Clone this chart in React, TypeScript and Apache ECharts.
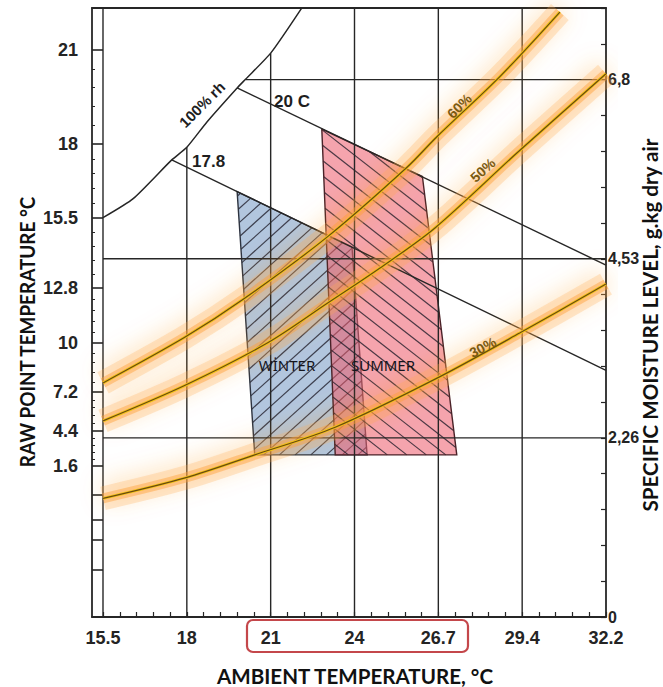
import React, { useEffect, useRef } from "react";
import * as echarts from "echarts";

// ---- data (x: dry-bulb scale index, 0 = 15.5 °C ... 6 = 32.2 °C; y: specific moisture level) ----
const xTickValues = [0, 1, 2, 3, 4, 5, 6];
const xTickLabels = ["15.5", "18", "21", "24", "26.7", "29.4", "32.2"];
const dewPointValues = [7.17, 5.98, 5.045, 4.16, 3.465, 2.845, 2.352, 1.909];
const dewPointLabels = ["21", "18", "15.5", "12.8", "10", "7.2", "4.4", "1.6"];
const lowerScaleMarks = [1.543, 1.227, 0.974, 0.594];
const moistureValues = [0, 2.265, 4.53, 6.795];
const moistureLabels = ["0", "2,26", "4,53", "6,8"];

const saturationCurve = [[0, 5.05], [0.36, 5.29], [0.82, 5.78], [1, 5.94], [1.24, 6.26], [1.6, 6.69], [1.7, 6.8], [2, 7.13], [2.37, 7.7]];
const rh60 = [[0, 2.96], [0.98, 3.54], [1.69, 4.03], [2.68, 4.81], [3.63, 5.69], [3.98, 6.07], [4.74, 6.84], [5.45, 7.65]];
const rh50 = [[0, 2.48], [0.98, 2.93], [1.97, 3.47], [2.68, 3.97], [3.3, 4.41], [3.96, 4.92], [4.94, 5.87], [6, 6.87]];
const rh30 = [[0, 1.5], [0.98, 1.76], [1.81, 2.05], [2.77, 2.4], [4.02, 3.04], [4.97, 3.59], [6, 4.21]];
const wetBulb20 = [[1.6, 6.69], [6, 4.45]];
const wetBulb178 = [[0.82, 5.78], [6, 3.12]];
// [x, yFrom, yTo]
const dryBulbLines = [[0, 0, 7.701], [1, 0, 5.94], [2, 0, 7.13], [3, 0, 7.701], [4, 0, 7.701], [5, 0, 7.701]];
// [y, xFrom, xTo]
const moistureLines = [[2.265, 0, 6], [4.53, 0, 6], [6.795, 1.7, 6]];
const winterZone = [[1.6, 5.38], [2.97, 4.68], [3.15, 2.05], [1.81, 2.05]];
const summerZone = [[2.61, 6.17], [3.81, 5.57], [4.22, 2.05], [2.77, 2.05]];
const noteTexts = ["100% rh", "20 C", "17.8", "60%", "50%", "30%", "WİNTER", "SUMMER"];
const noteAnchors = [[1.18, 6.48], [2.255, 6.52], [1.26, 5.76], [4.25, 6.46], [4.53, 5.65], [4.53, 3.41], [2.195, 3.19], [3.34, 3.19]];

const Y_MAX = 7.701;
const X_MIN = -0.1312;

function hatch(pts: number[][], angleDeg: number, spacing: number) {
  const a = (angleDeg * Math.PI) / 180;
  const d = [Math.cos(a), Math.sin(a)];
  const n = [-d[1], d[0]];
  const proj = pts.map((p) => p[0] * n[0] + p[1] * n[1]);
  const lo = Math.min(...proj);
  const hi = Math.max(...proj);
  const segs: number[][][] = [];
  for (let c = Math.ceil(lo / spacing) * spacing; c <= hi; c += spacing) {
    const hits: number[][] = [];
    for (let i = 0; i < pts.length; i++) {
      const j = (i + 1) % pts.length;
      const A = pts[i], B = pts[j];
      const sA = proj[i] - c, sB = proj[j] - c;
      if ((sA < 0 && sB >= 0) || (sA >= 0 && sB < 0)) {
        const t = sA / (sA - sB);
        hits.push([A[0] + t * (B[0] - A[0]), A[1] + t * (B[1] - A[1])]);
      }
    }
    if (hits.length >= 2) {
      hits.sort((p, q) => p[0] * d[0] + p[1] * d[1] - (q[0] * d[0] + q[1] * d[1]));
      segs.push([hits[0], hits[hits.length - 1]]);
    }
  }
  return segs;
}

export default function App() {
  const ref = useRef<HTMLDivElement>(null);
  useEffect(() => {
    if (!ref.current) return;
    const chart = echarts.init(ref.current, null, { renderer: "svg" });

    const xMinorTicks: number[] = [];
    for (let i = 0; i <= 30; i++) xMinorTicks.push(+(i * 0.2).toFixed(2));
    const yMinorTicks: number[] = [];
    for (let i = 0; i < dewPointValues.length - 1; i++) {
      const a = dewPointValues[i], b = dewPointValues[i + 1];
      for (let k = 1; k < 5; k++) yMinorTicks.push(a + ((b - a) * k) / 5);
    }

    const lookup = (vals: number[], labels: string[]) => (v: number) => {
      let best = 0;
      for (let i = 1; i < vals.length; i++) if (Math.abs(vals[i] - v) < Math.abs(vals[best] - v)) best = i;
      return labels[best];
    };

    const tickFont = { fontFamily: "Liberation Sans", fontWeight: "bold" as const, color: "#242424" };
    const lineColor = "#262626";

    const zones = [winterZone, summerZone];
    const zoneStyle = [
      { fill: "rgba(165,188,216,0.85)", stroke: "#2e3440", angle: -42, spacing: 10.5 },
      { fill: "rgba(238,92,108,0.56)", stroke: "#4a2228", angle: 38, spacing: 12 },
    ];

    const segLines: number[][] = [
      ...dryBulbLines.map((v) => [v[0], v[1], v[0], v[2]]),
      ...moistureLines.map((v) => [v[1], v[0], v[2], v[0]]),
      [wetBulb20[0][0], wetBulb20[0][1], wetBulb20[1][0], wetBulb20[1][1]],
      [wetBulb178[0][0], wetBulb178[0][1], wetBulb178[1][0], wetBulb178[1][1]],
    ];

    const noteStyle = [
      { rot: 45, font: "bold 15px 'Liberation Sans'", fill: "#1e1e1e" },
      { rot: 0, font: "bold 17px 'Liberation Sans'", fill: "#1e1e1e" },
      { rot: 0, font: "bold 17px 'Liberation Sans'", fill: "#1e1e1e" },
      { rot: 45, font: "bold 14px 'Liberation Sans'", fill: "#7a5a12" },
      { rot: 42, font: "bold 14px 'Liberation Sans'", fill: "#7a5a12" },
      { rot: 28, font: "bold 14px 'Liberation Sans'", fill: "#7a5a12" },
      { rot: 0, font: "15px 'Noto Sans'", fill: "#15151c" },
      { rot: 0, font: "15px 'Noto Sans'", fill: "#15151c" },
    ];

    const rhCurves = [rh60, rh50, rh30];
    const rhSeries: any[] = [];
    rhCurves.forEach((curve) => {
      rhSeries.push(
        { type: "line", data: curve, smooth: 0.3, symbol: "none", silent: true, z: 4,
          lineStyle: { width: 24, color: "rgba(255,170,70,0.26)", shadowBlur: 22, shadowColor: "rgba(255,145,30,0.8)", shadowOffsetY: -5 } },
        { type: "line", data: curve, smooth: 0.3, symbol: "none", silent: true, z: 4,
          lineStyle: { width: 10, color: "rgba(255,160,55,0.45)" } },
        { type: "line", data: curve, smooth: 0.3, symbol: "none", silent: true, z: 5,
          lineStyle: { width: 3, color: "#f3c316" } },
        { type: "line", data: curve, smooth: 0.3, symbol: "none", silent: true, z: 6,
          lineStyle: { width: 1.2, color: "#6a4a10" } }
      );
    });

    const titleStyle = (text: string, size: number) => ({
      text, font: `bold ${size}px Lato`, fill: "#111",
      align: "center", verticalAlign: "middle", textAlign: "center", textVerticalAlign: "middle",
    });

    const option: any = {
      animation: false,
      backgroundColor: "#ffffff",
      grid: { left: 92, right: 57, top: 8, bottom: 70, containLabel: false, outerBoundsMode: "none" },
      xAxis: [
        {
          type: "value", position: "bottom", min: X_MIN, max: 6,
          axisLine: { show: true, onZero: false, lineStyle: { color: lineColor, width: 1.8 } },
          axisTick: { show: true, inside: true, length: 5, customValues: xMinorTicks, lineStyle: { color: lineColor, width: 1.2 } },
          axisLabel: { customValues: xTickValues, formatter: lookup(xTickValues, xTickLabels), margin: 12, fontSize: 18, ...tickFont },
          splitLine: { show: false },
        },
        {
          type: "value", position: "top", min: X_MIN, max: 6,
          axisLine: { show: true, onZero: false, lineStyle: { color: lineColor, width: 1.8 } },
          axisTick: { show: false }, axisLabel: { show: false }, splitLine: { show: false },
        },
      ],
      yAxis: [
        {
          type: "value", position: "left", min: 0, max: Y_MAX,
          axisLine: { show: true, onZero: false, lineStyle: { color: lineColor, width: 1.8 } },
          axisTick: { show: true, inside: true, length: 11, customValues: [...dewPointValues, ...lowerScaleMarks], lineStyle: { color: lineColor, width: 1.6 } },
          axisLabel: { customValues: dewPointValues, formatter: lookup(dewPointValues, dewPointLabels), margin: 14, fontSize: 18, ...tickFont },
          splitLine: { show: false },
        },
        {
          type: "value", position: "right", min: 0, max: Y_MAX, interval: 0.453,
          axisLine: { show: true, onZero: false, lineStyle: { color: lineColor, width: 1.8 } },
          axisTick: { show: true, inside: true, length: 5, lineStyle: { color: lineColor, width: 1.2 } },
          axisLabel: { customValues: moistureValues, formatter: lookup(moistureValues, moistureLabels), margin: 2, fontSize: 16, ...tickFont },
          splitLine: { show: false },
        },
        {
          type: "value", position: "left", min: 0, max: Y_MAX,
          axisLine: { show: false, onZero: false },
          axisTick: { show: true, inside: true, length: 3, customValues: yMinorTicks, lineStyle: { color: lineColor, width: 1 } },
          axisLabel: { show: false }, splitLine: { show: false },
        },
      ],
      series: [
        {
          type: "custom", z: 1, silent: true,
          data: zones.map((_, i) => [i]),
          renderItem: (params: any, api: any) => {
            const i = params.dataIndex;
            const pts = zones[i].map((p) => api.coord(p));
            const st = zoneStyle[i];
            const children: any[] = [
              { type: "polygon", shape: { points: pts }, style: { fill: st.fill, stroke: "none" } },
            ];
            hatch(pts, st.angle, st.spacing).forEach((s) => {
              children.push({ type: "line", shape: { x1: s[0][0], y1: s[0][1], x2: s[1][0], y2: s[1][1] }, style: { stroke: "rgba(28,26,38,0.78)", lineWidth: 1.2 } });
            });
            children.push({ type: "polygon", shape: { points: pts }, style: { fill: "none", stroke: st.stroke, lineWidth: 1.4 } });
            return { type: "group", children };
          },
        },
        {
          type: "custom", z: 3, silent: true,
          data: segLines,
          renderItem: (params: any, api: any) => {
            const v = segLines[params.dataIndex];
            const p1 = api.coord([v[0], v[1]]);
            const p2 = api.coord([v[2], v[3]]);
            return { type: "line", shape: { x1: p1[0], y1: p1[1], x2: p2[0], y2: p2[1] }, style: { stroke: lineColor, lineWidth: 1.4 } };
          },
        },
        {
          type: "line", data: saturationCurve, smooth: 0.2, symbol: "none", silent: true, z: 3,
          lineStyle: { width: 1.5, color: lineColor },
        },
        ...rhSeries,
        {
          type: "custom", z: 8, silent: true,
          data: noteAnchors,
          renderItem: (params: any, api: any) => {
            const i = params.dataIndex;
            const p = api.coord(noteAnchors[i]);
            const st = noteStyle[i];
            return {
              type: "text", x: p[0], y: p[1], rotation: (st.rot * Math.PI) / 180,
              style: { text: noteTexts[i], x: 0, y: 0, font: st.font, fill: st.fill, align: "center", verticalAlign: "middle" },
            };
          },
        },
      ],
      graphic: [
        {
          type: "rect", shape: { x: 247, y: 620, width: 221, height: 32, r: 6 },
          style: { fill: "none", stroke: "#c4474b", lineWidth: 2.2 },
        },
        { type: "text", x: 355, y: 675, scaleX: 0.98, style: titleStyle("AMBIENT TEMPERATURE, °C", 21) },
        { type: "text", x: 27, y: 332, rotation: Math.PI / 2, scaleX: 0.9, style: titleStyle("RAW POINT TEMPERATURE °C", 21) },
        { type: "text", x: 650, y: 325, rotation: Math.PI / 2, scaleX: 1.03, style: titleStyle("SPECIFIC MOISTURE LEVEL, g.kg dry air", 20) },
      ],
    };
    chart.setOption(option);
    return () => chart.dispose();
  }, []);
  return <div ref={ref} style={{ position: "fixed", left: 0, top: 0, width: 663, height: 687, background: "#fff" }} />;
}
